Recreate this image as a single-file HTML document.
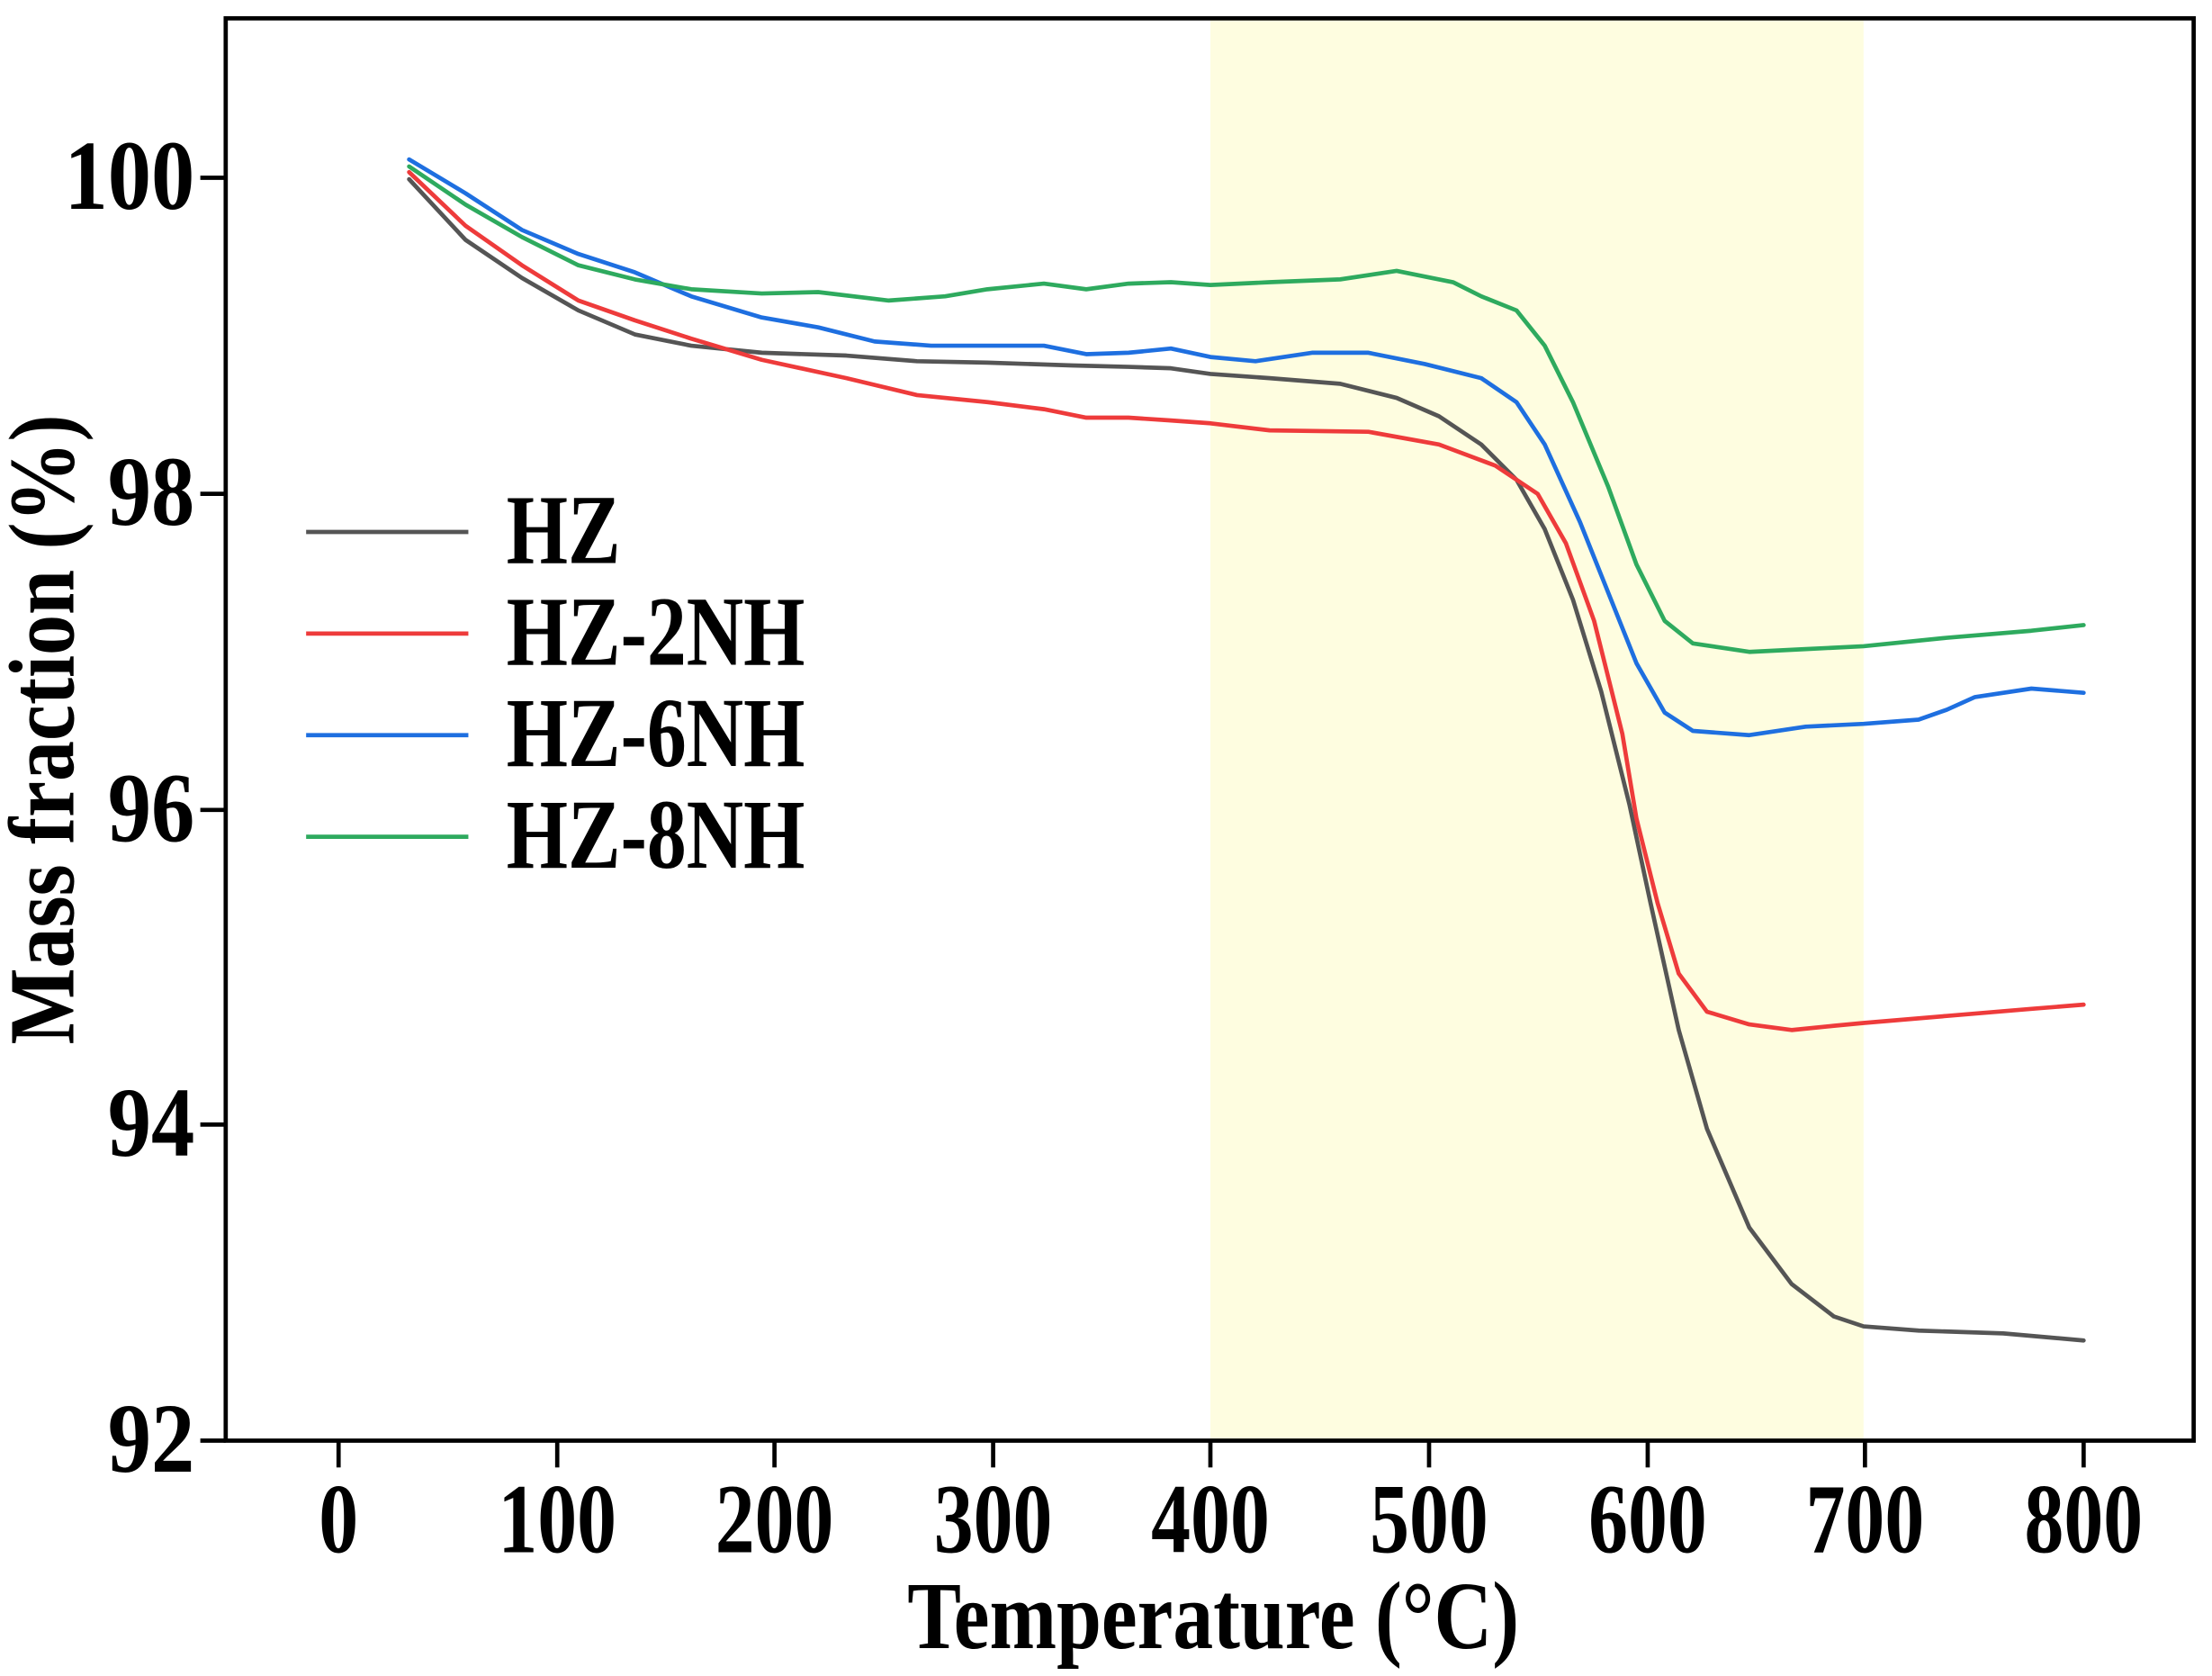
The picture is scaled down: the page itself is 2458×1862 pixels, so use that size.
<!DOCTYPE html>
<html><head><meta charset="utf-8"><style>html,body{margin:0;padding:0;background:#fff}svg{display:block}</style></head>
<body>
<svg width="2458" height="1862" viewBox="0 0 1568 1187.8" xmlns="http://www.w3.org/2000/svg" font-family="'Liberation Serif', serif" font-weight="bold">
<rect x="0" y="0" width="1568" height="1188" fill="#fff"/>
<rect x="858" y="13" width="463" height="1008" fill="#FEFDE0"/>
<g fill="none" stroke-width="3" stroke-linejoin="round" stroke-linecap="round">
<polyline stroke="#555555" points="290,127 330,170 370,197 410,220 450,237 490,245 540,250 600,252 650,256 700,257 760,259 800,260 830,261 858,265 900,268 950,272 990,282 1020,295 1050,315 1075,340 1095,375 1115,425 1135,490 1155,570 1170,640 1190,730 1210,800 1240,870 1270,910 1300,933 1321,940 1360,943 1420,945 1477,950"/>
<polyline stroke="#EE3B3B" points="290,122 330,160 370,188 410,213 450,227 490,240 540,255 600,268 650,280 700,285 740,290 770,296 800,296 830,298 858,300 900,305 970,306 1020,315 1060,330 1090,350 1110,385 1130,440 1150,520 1160,580 1175,640 1190,690 1210,717 1240,726 1270,730 1300,727 1321,725 1380,720 1440,715 1477,712"/>
<polyline stroke="#1E6FE0" points="290,113 330,137 370,163 410,180 450,193 490,210 540,225 580,232 620,242 660,245 700,245 740,245 770,251 800,250 830,247 858,253 890,256 930,250 970,250 1010,258 1050,268 1075,285 1095,315 1120,370 1140,420 1160,470 1180,505 1200,518 1240,521 1280,515 1321,513 1360,510 1380,503 1400,494 1440,488 1477,491"/>
<polyline stroke="#2EAA5E" points="290,118 330,145 370,168 410,188 450,198 490,205 540,208 580,207 630,213 670,210 700,205 740,201 770,205 800,201 830,200 858,202 900,200 950,198 990,192 1030,200 1050,210 1075,220 1095,245 1115,285 1140,345 1160,400 1180,440 1200,456 1240,462 1280,460 1321,458 1380,452 1440,447 1477,443"/>
</g>
<rect x="160" y="13" width="1395" height="1008" fill="none" stroke="#000" stroke-width="3"/>
<g stroke="#000" stroke-width="3">
<line x1="240" y1="1021" x2="240" y2="1040"/><line x1="395" y1="1021" x2="395" y2="1040"/><line x1="549" y1="1021" x2="549" y2="1040"/><line x1="704" y1="1021" x2="704" y2="1040"/><line x1="858" y1="1021" x2="858" y2="1040"/><line x1="1013" y1="1021" x2="1013" y2="1040"/><line x1="1168" y1="1021" x2="1168" y2="1040"/><line x1="1322" y1="1021" x2="1322" y2="1040"/><line x1="1477" y1="1021" x2="1477" y2="1040"/>
<line x1="142" y1="126" x2="160" y2="126"/><line x1="142" y1="350" x2="160" y2="350"/><line x1="142" y1="574" x2="160" y2="574"/><line x1="142" y1="797" x2="160" y2="797"/><line x1="142" y1="1021" x2="160" y2="1021"/>
</g>
<g font-size="70" text-anchor="middle">
<text transform="translate(240,1100) scale(0.8,1)">0</text>
<text transform="translate(395,1100) scale(0.8,1)">100</text>
<text transform="translate(549,1100) scale(0.8,1)">200</text>
<text transform="translate(704,1100) scale(0.8,1)">300</text>
<text transform="translate(858,1100) scale(0.8,1)">400</text>
<text transform="translate(1013,1100) scale(0.8,1)">500</text>
<text transform="translate(1168,1100) scale(0.8,1)">600</text>
<text transform="translate(1322,1100) scale(0.8,1)">700</text>
<text transform="translate(1477,1100) scale(0.8,1)">800</text>
</g>
<g font-size="70" text-anchor="end">
<text transform="translate(138,148) scale(0.88,1)">100</text>
<text transform="translate(138,372) scale(0.88,1)">98</text>
<text transform="translate(138,596) scale(0.88,1)">96</text>
<text transform="translate(138,819) scale(0.88,1)">94</text>
<text transform="translate(138,1043) scale(0.88,1)">92</text>
</g>
<text transform="translate(860,1168) scale(0.84,1)" font-size="68" text-anchor="middle">Temperature (°C)</text>
<text transform="translate(52,517) rotate(-90) scale(0.87,1)" font-size="66" text-anchor="middle">Mass fraction (%)</text>
<g stroke-width="3">
<line x1="217" y1="377" x2="332" y2="377" stroke="#555555"/>
<line x1="217" y1="449" x2="332" y2="449" stroke="#EE3B3B"/>
<line x1="217" y1="521" x2="332" y2="521" stroke="#1E6FE0"/>
<line x1="217" y1="593" x2="332" y2="593" stroke="#2EAA5E"/>
</g>
<g font-size="70">
<text transform="translate(359,399) scale(0.8,1)">HZ</text>
<text transform="translate(359,471) scale(0.8,1)">HZ-2NH</text>
<text transform="translate(359,543) scale(0.8,1)">HZ-6NH</text>
<text transform="translate(359,615) scale(0.8,1)">HZ-8NH</text>
</g>
</svg>
</body></html>
